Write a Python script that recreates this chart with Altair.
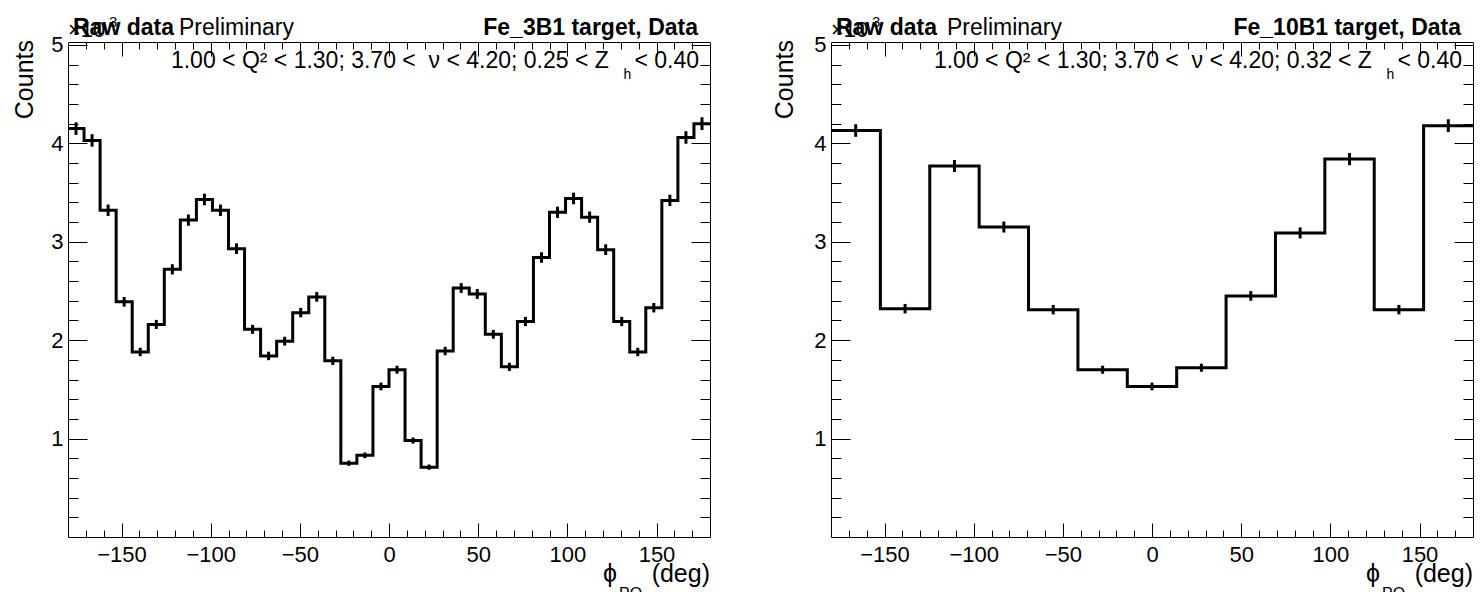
import altair as alt
import numpy as np
import pandas as pd

FONT = "Liberation Sans"

# ---- data (counts in units of 10^3) ----
left_counts = [4.15, 4.03, 3.32, 2.39, 1.88, 2.16, 2.72, 3.22, 3.43, 3.32,
               2.93, 2.11, 1.84, 1.99, 2.28, 2.44, 1.79, 0.75, 0.83, 1.53,
               1.70, 0.98, 0.71, 1.89, 2.53, 2.47, 2.06, 1.73, 2.19, 2.84,
               3.30, 3.44, 3.25, 2.92, 2.19, 1.88, 2.33, 3.42, 4.06, 4.20]
left_errors = [0.064, 0.063, 0.058, 0.049, 0.043, 0.046, 0.052, 0.057, 0.059, 0.058,
               0.054, 0.046, 0.043, 0.045, 0.048, 0.049, 0.042, 0.027, 0.029, 0.039,
               0.041, 0.031, 0.027, 0.043, 0.050, 0.050, 0.045, 0.042, 0.047, 0.053,
               0.057, 0.059, 0.057, 0.054, 0.047, 0.043, 0.048, 0.058, 0.064, 0.065]
right_counts = [4.13, 2.32, 3.77, 3.15, 2.31, 1.70, 1.53, 1.72, 2.45, 3.09, 3.84, 2.31, 4.18]
right_errors = [0.064, 0.048, 0.061, 0.056, 0.048, 0.041, 0.039, 0.041, 0.049, 0.056, 0.062, 0.048, 0.065]

left_title = "Fe_3B1 target, Data"
right_title = "Fe_10B1 target, Data"
left_cuts = "1.00 < Q\u00b2 < 1.30; 3.70 <\u00a0 \u03bd < 4.20; 0.25 < Z\u00a0\u00a0\u00a0\u00a0< 0.40"
right_cuts = "1.00 < Q\u00b2 < 1.30; 3.70 <\u00a0 \u03bd < 4.20; 0.32 < Z\u00a0\u00a0\u00a0\u00a0< 0.40"

x_major = [-150, -100, -50, 0, 50, 100, 150]
x_minor = [v for v in range(-170, 180, 10) if v % 50 != 0]
y_major = [1, 2, 3, 4, 5]
y_minor = [round(0.2 * k, 1) for k in range(1, 26) if k % 5 != 0]

W, H = 642, 495
xs = alt.Scale(domain=[-180, 180], nice=False, zero=False)
ys = alt.Scale(domain=[0, 5.03], nice=False, zero=False)


def tick_axis(orient, values, size, offset):
    return alt.Axis(orient=orient, values=values, tickSize=size, labels=False,
                    domain=False, grid=False, title=None, offset=offset,
                    tickColor="black", tickWidth=1)


def text_layer(txt, x, y, size, bold=False, align="left", angle=None):
    kw = dict(align=align, baseline="alphabetic", fontSize=size, font=FONT,
              color="black", fontWeight="bold" if bold else "normal")
    if angle is not None:
        kw["angle"] = angle
    return alt.Chart(pd.DataFrame({"t": [txt]})).mark_text(**kw).encode(
        text="t:N", x=alt.value(x), y=alt.value(y))


def panel(counts, errors, title, cuts, sub_x, prelim_x, counts_x):
    n = len(counts)
    edges = np.linspace(-180, 180, n + 1)
    centers = 0.5 * (edges[:-1] + edges[1:])
    step_df = pd.DataFrame({"x": edges, "y": list(counts) + [counts[-1]]})
    err_df = pd.DataFrame({"x": centers,
                           "lo": np.array(counts) - np.array(errors),
                           "hi": np.array(counts) + np.array(errors)})

    lab_x = alt.Axis(orient="bottom", values=x_major, ticks=False, domain=False,
                     grid=False, labelFontSize=22, labelPadding=7, title=None,
                     format="d", labelFont=FONT, labelColor="black",
                     labelFlush=False, labelOverlap=False)
    lab_y = alt.Axis(orient="left", values=y_major, ticks=False, domain=False,
                     grid=False, labelFontSize=22, labelPadding=5, title=None,
                     format="d", labelFont=FONT, labelColor="black",
                     labelFlush=False, labelOverlap=False, labelBaseline="middle")

    hist = alt.Chart(step_df).mark_line(
        interpolate="step-after", color="black", strokeWidth=3,
        strokeJoin="miter", strokeCap="butt").encode(
        x=alt.X("x:Q", scale=xs, axis=lab_x),
        y=alt.Y("y:Q", scale=ys, axis=lab_y))

    err = alt.Chart(err_df).mark_rule(color="black", strokeWidth=3).encode(
        x=alt.X("x:Q", scale=xs, axis=None),
        y=alt.Y("lo:Q", scale=ys, axis=None),
        y2="hi:Q")

    def ticks(xo, xv, xsz, xoff, yo, yv, ysz, yoff):
        return alt.Chart(step_df).mark_point(opacity=0, size=1).encode(
            x=alt.X("x:Q", scale=xs, axis=tick_axis(xo, xv, xsz, xoff)),
            y=alt.Y("y:Q", scale=ys, axis=tick_axis(yo, yv, ysz, yoff)))

    t1 = ticks("top", x_major, 14, -H, "right", y_major, 19, -W)
    t2 = ticks("top", x_minor, 7, -H, "right", y_minor, 10, -W)
    t3 = ticks("bottom", x_major, 14, -H, "left", y_major, 19, -W)
    t4 = ticks("bottom", x_minor, 7, -H, "left", y_minor, 10, -W)

    texts = [
        text_layer("\u00d710", 0, -5, 22),
        text_layer("3", 41, -15, 15),
        text_layer("Raw data", 5, -7, 23, bold=True),
        text_layer("Preliminary", prelim_x, -7, 23),
        text_layer(title, W - 12, -7, 23, bold=True, align="right"),
        text_layer(cuts, W - 11, 26, 23, align="right"),
        text_layer("h", sub_x, 37, 14),
        text_layer("Counts", counts_x, -2, 25, angle=270, align="right"),
        text_layer("(deg)", W, H + 45, 25, align="right"),
        text_layer("\u03d5", 535, H + 45, 25),
        text_layer("PO", 551, H + 62, 16),
    ]

    return alt.layer(hist, err, t1, t2, t3, t4, *texts).resolve_axis(
        x="independent", y="independent").properties(width=W, height=H)


left = panel(left_counts, left_errors, left_title, left_cuts, 555.5, 111, -35)
right = panel(right_counts, right_errors, right_title, right_cuts, 555.5, 116, -38)

chart = alt.hconcat(left, right, spacing=121, bounds="flush").properties(
    padding={"left": 12, "top": 14, "right": 0, "bottom": 0},
    background="white",
).configure_view(stroke="black", strokeWidth=1)

chart.save("out.html", embed_options={"renderer": "svg", "actions": False})
